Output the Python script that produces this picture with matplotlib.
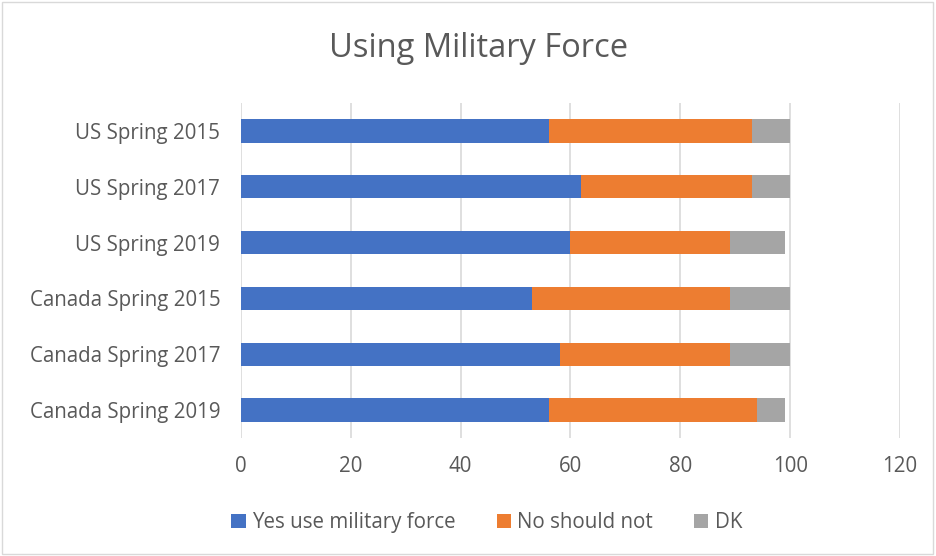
import matplotlib.pyplot as plt
from matplotlib.patches import Rectangle

categories = ["US Spring 2015", "US Spring 2017", "US Spring 2019",
              "Canada Spring 2015", "Canada Spring 2017", "Canada Spring 2019"]
yes_force = [56, 62, 60, 53, 58, 56]
no_should_not = [37, 31, 29, 36, 31, 38]
dont_know = [7, 7, 10, 11, 11, 5]
x_ticks = [0, 20, 40, 60, 80, 100, 120]

plt.rcParams["font.family"] = ["Open Sans", "DejaVu Sans"]
text_color = "#595959"

fig = plt.figure(figsize=(9.36, 5.56), dpi=100)
ax = fig.add_axes([0.2575, 0.2122, 0.704, 0.6025])

y = list(range(len(categories)))
h = 0.42
left2 = [a + b for a, b in zip(yes_force, no_should_not)]
ax.barh(y, yes_force, h, color="#4472C4", label="Yes use military force", zorder=3)
ax.barh(y, no_should_not, h, left=yes_force, color="#ED7D31", label="No should not", zorder=3)
ax.barh(y, dont_know, h, left=left2, color="#A5A5A5", label="DK", zorder=3)

ax.set_xlim(0, 120)
ax.set_ylim(len(categories) - 0.5, -0.5)
ax.set_xticks(x_ticks)
ax.set_yticks(y)
ax.set_yticklabels(categories)
ax.tick_params(axis="both", length=0, labelsize=14.8, colors=text_color)
ax.tick_params(axis="x", pad=13)
ax.tick_params(axis="y", pad=15)
ax.grid(axis="x", color="#D9D9D9", linewidth=1.2, zorder=0)
for s in ax.spines.values():
    s.set_visible(False)

fig.text(0.511, 0.912, "Using Military Force", ha="center", va="center",
         fontsize=23.5, color=text_color)

handles, labels = ax.get_legend_handles_labels()
fig.legend(handles, labels, loc="center", bbox_to_anchor=(0.52, 0.06), ncol=3,
           frameon=False, fontsize=14.8, labelcolor=text_color,
           handlelength=0.7, handleheight=0.7, handletextpad=0.3, columnspacing=2.0)

fig.patches.append(Rectangle((0.002, 0.003), 0.995, 0.993, transform=fig.transFigure,
                             fill=False, edgecolor="#D9D9D9", linewidth=1))

fig.savefig("out.png", dpi=100)
